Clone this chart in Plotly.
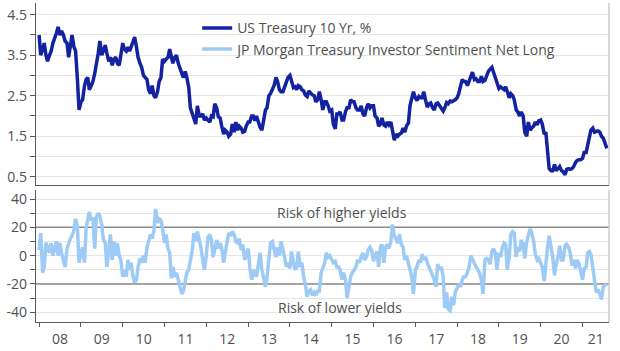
import pandas as pd
import plotly.graph_objects as go

# ---------------- data (semi-monthly readings) ----------------
ust10y = [
    # 2008
    4.0, 3.5, 3.65, 3.8, 3.5, 3.35, 3.5, 3.6, 3.8, 3.9, 4.05, 4.2, 4.0, 4.1, 4.0, 3.85, 3.8, 3.45, 3.8, 4.0, 3.7, 3.6, 2.9, 2.15,
    # 2009
    2.35, 2.4, 2.75, 2.9, 2.95, 2.65, 2.75, 2.85, 3.05, 3.25, 3.55, 3.85, 3.5, 3.6, 3.75, 3.55, 3.35, 3.45, 3.25, 3.4, 3.45, 3.3, 3.25, 3.5,
    # 2010
    3.8, 3.65, 3.6, 3.7, 3.6, 3.7, 3.85, 3.95, 3.7, 3.45, 3.3, 3.2, 3.0, 2.95, 2.9, 2.65, 2.55, 2.75, 2.5, 2.45, 2.6, 2.85, 2.95, 3.4,
    # 2011
    3.35, 3.4, 3.45, 3.65, 3.45, 3.3, 3.45, 3.5, 3.3, 3.15, 3.05, 2.95, 3.1, 2.95, 2.7, 2.2, 2.05, 1.95, 1.8, 2.25, 2.0, 2.0, 2.05, 1.9,
    # 2012
    1.95, 1.9, 1.85, 2.0, 1.98, 2.3, 2.2, 1.98, 1.95, 1.75, 1.55, 1.65, 1.6, 1.5, 1.55, 1.8, 1.6, 1.85, 1.65, 1.75, 1.7, 1.6, 1.62, 1.75,
    # 2013
    1.85, 1.85, 2.0, 2.0, 1.88, 2.0, 1.85, 1.72, 1.65, 1.95, 2.15, 2.2, 2.5, 2.55, 2.65, 2.75, 2.95, 2.85, 2.65, 2.6, 2.6, 2.7, 2.8, 2.95,
    # 2014
    3.0, 2.85, 2.7, 2.72, 2.65, 2.75, 2.72, 2.65, 2.62, 2.52, 2.48, 2.62, 2.55, 2.52, 2.5, 2.35, 2.4, 2.6, 2.4, 2.15, 2.35, 2.35, 2.25, 2.12,
    # 2015
    2.15, 1.8, 1.68, 2.05, 2.05, 2.1, 1.9, 1.9, 2.1, 2.2, 2.2, 2.4, 2.35, 2.35, 2.2, 2.15, 2.15, 2.25, 2.05, 2.0, 2.2, 2.3, 2.2, 2.25,
    # 2016
    2.25, 2.0, 1.95, 1.75, 1.8, 1.95, 1.78, 1.75, 1.85, 1.78, 1.85, 1.6, 1.4, 1.55, 1.5, 1.55, 1.58, 1.7, 1.6, 1.75, 1.82, 2.25, 2.4, 2.6,
    # 2017
    2.45, 2.38, 2.48, 2.45, 2.45, 2.6, 2.38, 2.22, 2.3, 2.32, 2.2, 2.15, 2.3, 2.32, 2.25, 2.2, 2.12, 2.2, 2.33, 2.3, 2.37, 2.35, 2.37, 2.4,
    # 2018
    2.45, 2.55, 2.75, 2.9, 2.85, 2.85, 2.75, 2.85, 2.95, 3.08, 2.9, 2.92, 2.85, 2.85, 2.98, 2.85, 2.88, 3.0, 3.1, 3.15, 3.2, 3.08, 2.95, 2.85,
    # 2019
    2.68, 2.72, 2.68, 2.65, 2.72, 2.6, 2.45, 2.55, 2.5, 2.4, 2.15, 2.1, 2.0, 2.1, 2.0, 1.6, 1.5, 1.85, 1.65, 1.7, 1.75, 1.85, 1.78, 1.88,
    # 2020
    1.9, 1.8, 1.55, 1.6, 1.1, 0.7, 0.65, 0.65, 0.8, 0.65, 0.7, 0.75, 0.65, 0.62, 0.55, 0.68, 0.7, 0.68, 0.7, 0.75, 0.85, 0.9, 0.92, 0.92,
    # 2021
    0.95, 1.1, 1.1, 1.3, 1.45, 1.65, 1.7, 1.6, 1.62, 1.63, 1.6, 1.5, 1.45, 1.3, 1.2,
]

jpm_sentiment = [
    # 2008
    4, 16, -12, -8, 9, 5, 2, 9, 0, 5, 10, 0, 9, 2, -3, -8, 5, 9, 12, 14, 18, 26, 20, -5,
    # 2009
    0, 6, -5, 20, 25, 31, 25, 27, 5, 27, 30, 28, 22, 12, 9, -8, 4, 15, -3, 10, 0, 9, 0, -3,
    # 2010
    -15, -10, -15, -3, -10, -5, -15, -19, -17, -8, -2, -5, 0, -5, 6, 11, 15, 12, 18, 33, 23, 26, 25, 19,
    # 2011
    9, 15, 5, 2, -16, -8, -15, -12, -17, -22, -27, -25, -17, -12, -10, -3, 4, 16, 10, 17, 12, 6, -3, -10,
    # 2012
    0, 13, 15, 11, -1, 5, 11, 5, 9, 5, -5, 2, 11, 16, 14, 17, 15, 10, 9, 12, 4, 8, -3, 0,
    # 2013
    5, -8, -17, -12, -10, -15, -3, 2, -10, -17, -22, -15, -3, 9, 10, 5, -1, 6, 0, 10, 5, -1, -8, -5,
    # 2014
    -9, 3, -5, -10, -8, 3, -8, -5, -15, -20, -29, -25, -24, -28, -26, -28, -25, -25, -12, -8, -5, 2, -1, 0,
    # 2015
    -3, -5, -4, -8, -8, -10, -17, -12, -17, -30, -22, -15, -12, -10, -8, -3, -5, -1, 2, -3, -1, 4, 6, 4,
    # 2016
    -4, 0, 3, -8, 6, 8, -5, 6, 8, 5, 10, 22, 14, 12, 9, 15, 8, 6, -3, 0, -5, -10, -15, -27,
    # 2017
    -10, -8, -3, -5, 1, -3, -1, -5, -8, -12, -15, -17, -22, -6, -10, -8, -15, -37, -26, -38, -39, -29, -35, -26,
    # 2018
    -23, -20, -22, -17, -15, -15, -12, -8, 0, -3, -5, -8, -10, -12, -17, -27, -3, -2, -3, -6, 3, 5, 2, -10,
    # 2019
    2, -1, 6, 9, 8, -10, -1, 15, 17, 16, -1, 6, 3, 11, 8, -2, 10, 15, 19, 16, 10, 1, -3, -2,
    # 2020
    -5, -8, -18, -3, 6, 14, 6, -1, -14, -6, -1, 7, -3, -3, 7, 8, 6, 2, -7, -3, -9, -3, -6, -10,
    # 2021
    -17, -9, -8, 2, 3, 1, -8, -19, -26, -24, -27, -31, -22, -21, -20,
]

years = list(range(2008, 2022))
year_labels = [f"{y % 100:02d}" for y in years]
risk_thresholds = [20, -20]
yield_ticks = [0.5, 1.0, 1.5, 2.0, 2.5, 3.0, 3.5, 4.0, 4.5]
yield_ticktext = ["0.5", "", "1.5", "", "2.5", "", "3.5", "", "4.5"]
sent_ticks = [-40, -30, -20, -10, 0, 10, 20, 30, 40]
sent_ticktext = ["-40", "", "-20", "", "0", "", "20", "", "40"]

dates = pd.date_range("2008-01-01", periods=len(ust10y), freq="SMS")

# ---------------- styling ----------------
X_START = pd.Timestamp("2007-12-05")
X_END = pd.Timestamp("2021-08-20")
NAVY = "#1222a0"
LIGHT = "#9ecbf6"
AXIS = "#595959"
GRID = "#e6e6e6"
TXT = "#505050"
FONT = "Open Sans"

year_starts = [pd.Timestamp(f"{y}-01-01") for y in years]
label_pos = []
for i, ys in enumerate(year_starts):
    ye = year_starts[i + 1] if i + 1 < len(year_starts) else X_END
    label_pos.append(ys + (ye - ys) / 2)

fig = go.Figure()
fig.add_trace(go.Scatter(x=dates, y=ust10y, mode="lines", name="US Treasury 10 Yr, %",
                         line=dict(color=NAVY, width=3.5), xaxis="x", yaxis="y"))
# risk threshold lines (drawn under the sentiment series)
for t in risk_thresholds:
    fig.add_trace(go.Scatter(x=[X_START, X_END], y=[t, t], mode="lines", showlegend=False,
                             hoverinfo="skip", line=dict(color="#8a8a8a", width=1.5),
                             xaxis="x2", yaxis="y2"))
fig.add_trace(go.Scatter(x=dates, y=jpm_sentiment, mode="lines",
                         name="JP Morgan Treasury Investor Sentiment Net Long",
                         line=dict(color=LIGHT, width=3.5), xaxis="x2", yaxis="y2"))

xdom = [36 / 620, 609 / 620]
common_x = dict(domain=xdom, range=[X_START, X_END], showgrid=False, zeroline=False,
                showline=True, linecolor=AXIS, linewidth=1.3)
fig.update_layout(
    width=620, height=351,
    margin=dict(l=0, r=0, t=0, b=0),
    paper_bgcolor="white", plot_bgcolor="white",
    font=dict(family=FONT, size=14, color=TXT),
    xaxis=dict(**common_x, anchor="y", showticklabels=False, ticks="", matches="x2"),
    xaxis2=dict(**common_x, anchor="y2", tickmode="array", tickvals=label_pos, ticktext=year_labels,
                ticks="", tickfont=dict(size=14, color=TXT), ticklabelstandoff=4,
                minor=dict(tickmode="array", tickvals=year_starts, ticks="outside",
                           ticklen=4, tickcolor=AXIS, showgrid=False)),
    yaxis=dict(domain=[1 - 185 / 351, 1 - 3 / 351], range=[0.295, 4.79], anchor="x",
               tickmode="array", tickvals=yield_ticks, ticktext=yield_ticktext,
               ticks="outside", ticklen=5, tickcolor=AXIS, showgrid=True, gridcolor=GRID,
               zeroline=False, showline=True, linecolor=AXIS, linewidth=1.3,
               tickfont=dict(size=14, color=TXT), automargin=False),
    yaxis2=dict(domain=[1 - 322 / 351, 1 - 190 / 351], range=[-46.9, 46.4], anchor="x2",
                tickmode="array", tickvals=sent_ticks, ticktext=sent_ticktext,
                ticks="outside", ticklen=5, tickcolor=AXIS, showgrid=True, gridcolor=GRID,
                zeroline=False, showline=True, linecolor=AXIS, linewidth=1.3,
                tickfont=dict(size=14, color=TXT), automargin=False),
    legend=dict(x=0.318, y=0.965, xanchor="left", yanchor="top", bgcolor="rgba(0,0,0,0)",
                font=dict(size=14, color=TXT), itemwidth=30, tracegroupgap=0),
    showlegend=True,
)

# right borders of both panels
for xr, yr in [("x domain", "y domain"), ("x2 domain", "y2 domain")]:
    fig.add_shape(type="line", xref=xr, yref=yr, x0=1, x1=1, y0=0, y1=1,
                  line=dict(color="#c4c4c4", width=1.3))

fig.add_annotation(text="Risk of higher yields", xref="paper", yref="y2", x=0.552, y=30.5,
                   showarrow=False, font=dict(size=14, color=TXT))
fig.add_annotation(text="Risk of lower yields", xref="paper", yref="y2", x=0.548, y=-36.5,
                   showarrow=False, font=dict(size=14, color=TXT))

fig.write_html("out.html")
